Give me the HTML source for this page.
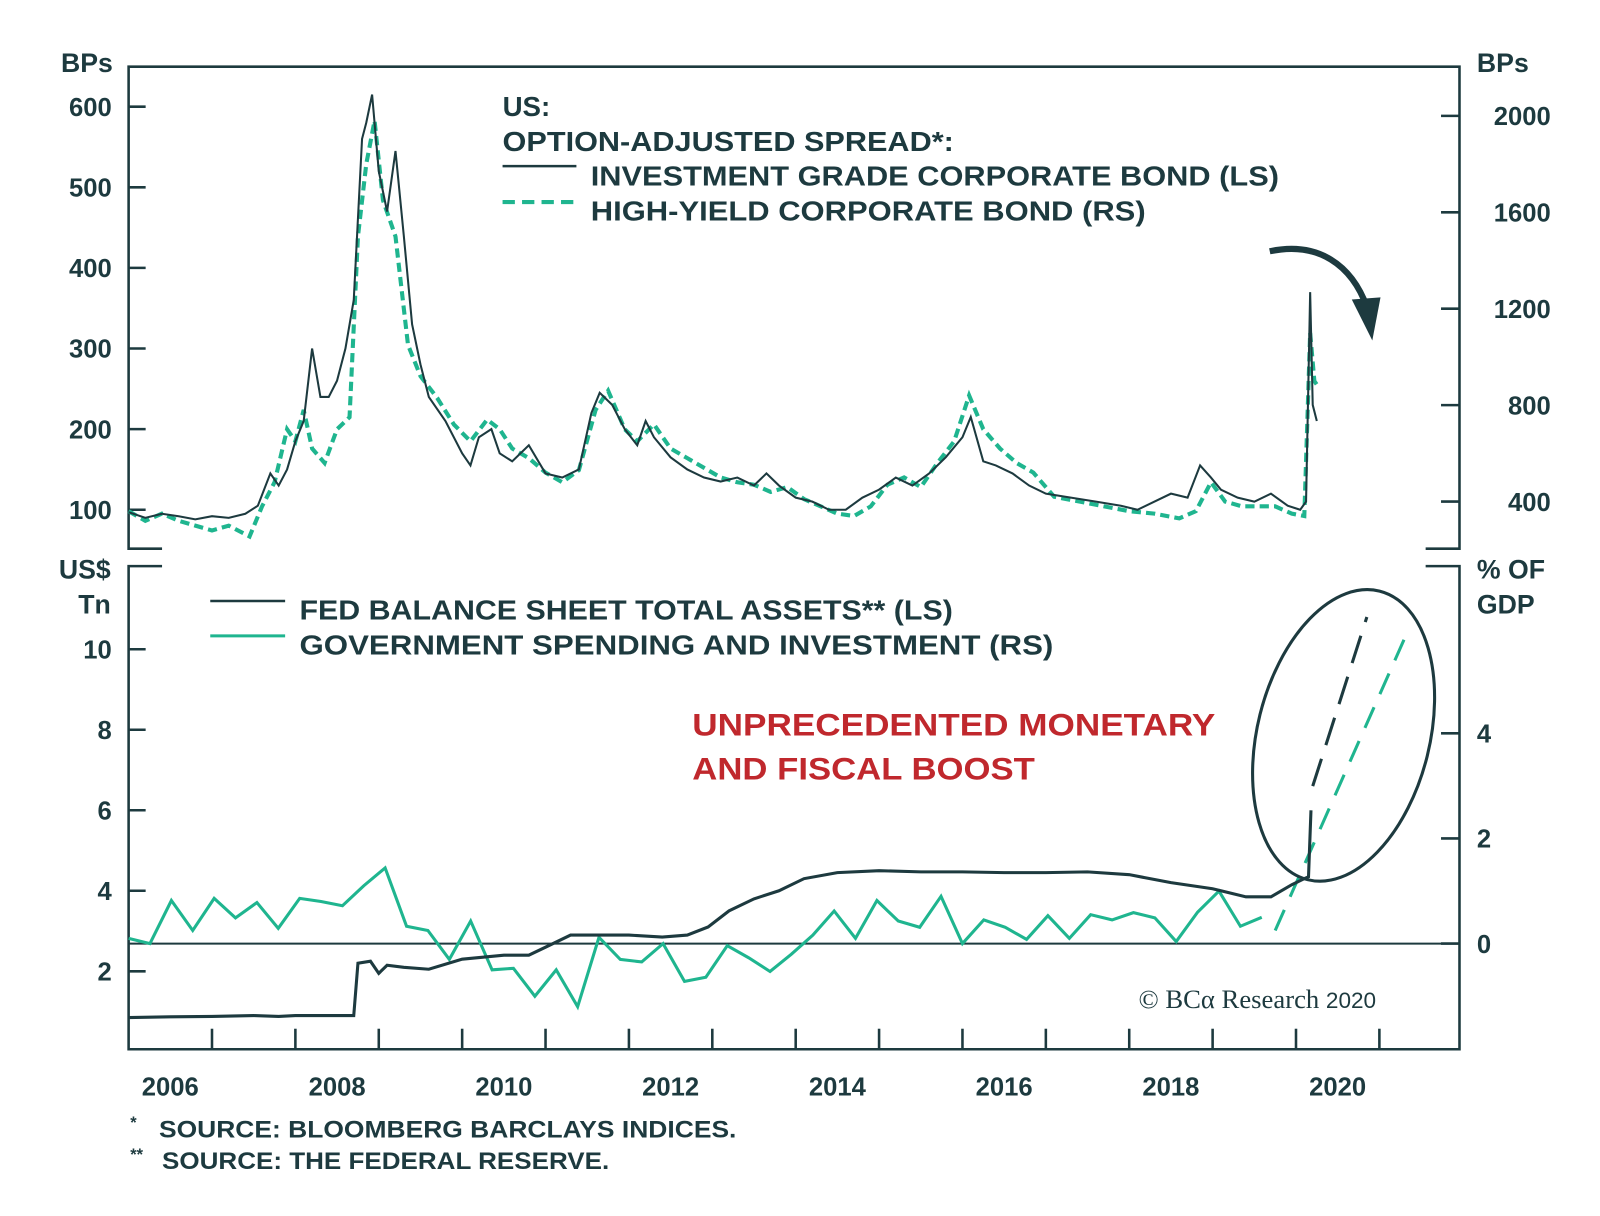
<!DOCTYPE html>
<html><head><meta charset="utf-8"><style>
html,body{margin:0;padding:0;background:#fff;}
svg{display:block;}
text{font-family:"Liberation Sans",sans-serif;font-weight:bold;fill:#1d3a3f;}
</style></head><body>
<svg id="chart" width="1600" height="1216" viewBox="0 0 1560 1185.6" preserveAspectRatio="none" xmlns="http://www.w3.org/2000/svg">
<g id="axes" stroke="#1d3a3f" stroke-width="2.5" fill="none">
  <path d="M158,535 H125.4 V65 H1423 V535 H1390"/>
  <path d="M158,552 H125.4 V1023 H1423 V552 H1390"/>
  <line x1="125.4" y1="920" x2="1423" y2="920" stroke-width="2"/>
</g>
<g id="ticks"></g>
<g id="series"></g>
<g>
  <text x="490" y="113" font-size="27">US:</text>
  <text x="490" y="147" font-size="27" textLength="440" lengthAdjust="spacingAndGlyphs">OPTION-ADJUSTED SPREAD*:</text>
  <line x1="490" y1="162" x2="562" y2="162" stroke="#1d3a3f" stroke-width="2.5"/>
  <line x1="490" y1="197" x2="562" y2="197" stroke="#1fb58f" stroke-width="4" stroke-dasharray="12,7"/>
  <text x="576" y="181" font-size="27" textLength="671" lengthAdjust="spacingAndGlyphs">INVESTMENT GRADE CORPORATE BOND (LS)</text>
  <text x="576" y="215" font-size="27" textLength="541" lengthAdjust="spacingAndGlyphs">HIGH-YIELD CORPORATE BOND (RS)</text>
</g>
<g>
  <line x1="205" y1="586" x2="278" y2="586" stroke="#1d3a3f" stroke-width="2.5"/>
  <line x1="205" y1="620" x2="278" y2="620" stroke="#1fb58f" stroke-width="3"/>
  <text x="292" y="604" font-size="27" textLength="637" lengthAdjust="spacingAndGlyphs">FED BALANCE SHEET TOTAL ASSETS** (LS)</text>
  <text x="292" y="638" font-size="27" textLength="735" lengthAdjust="spacingAndGlyphs">GOVERNMENT SPENDING AND INVESTMENT (RS)</text>
</g>
<g>
  <text x="675" y="717" font-size="31" style="fill:#c0282d" textLength="510" lengthAdjust="spacingAndGlyphs">UNPRECEDENTED MONETARY</text>
  <text x="675" y="760" font-size="31" style="fill:#c0282d" textLength="334" lengthAdjust="spacingAndGlyphs">AND FISCAL BOOST</text>
  <ellipse cx="1310" cy="717" rx="84" ry="145" transform="rotate(14 1310 717)" fill="none" stroke="#1d3a3f" stroke-width="3"/>
  <path d="M1238,245 C1285,235 1318,258 1333,300" fill="none" stroke="#1d3a3f" stroke-width="6"/>
  <polygon points="1318,292 1346,290 1338,332" fill="#1d3a3f"/>
</g>
<g>
  <text x="110" y="70" font-size="26" text-anchor="end">BPs</text>
  <text x="1440" y="70" font-size="26">BPs</text>
  <text x="108" y="564" font-size="26" text-anchor="end">US$</text>
  <text x="108" y="598" font-size="26" text-anchor="end">Tn</text>
  <text x="1440" y="564" font-size="26">% OF</text>
  <text x="1440" y="598" font-size="26">GDP</text>
</g>
<g>
  <text x="1110" y="983" font-size="26" style="font-family:'Liberation Serif',serif;font-weight:normal">© BCα Research <tspan font-size="22" style="font-family:'Liberation Sans',sans-serif">2020</tspan></text>
</g>
<g>
  <text x="127" y="1100" font-size="16">*</text>
  <text x="155" y="1109" font-size="23" font-weight="normal" textLength="563" lengthAdjust="spacingAndGlyphs">SOURCE: BLOOMBERG BARCLAYS INDICES.</text>
  <text x="127" y="1131" font-size="16">**</text>
  <text x="158" y="1140" font-size="23" textLength="436" lengthAdjust="spacingAndGlyphs">SOURCE: THE FEDERAL RESERVE.</text>
</g>
<script>
// ---- data ----
const igTimes=[2006.0,2006.2,2006.4,2006.6,2006.8,2007.0,2007.2,2007.4,2007.55,2007.7,2007.8,2007.9,2008.0,2008.1,2008.2,2008.3,2008.4,2008.5,2008.6,2008.7,2008.8,2008.85,2008.92,2009.0,2009.1,2009.2,2009.3,2009.4,2009.5,2009.6,2009.8,2010.0,2010.1,2010.2,2010.35,2010.45,2010.6,2010.8,2011.0,2011.2,2011.4,2011.55,2011.65,2011.8,2011.95,2012.1,2012.2,2012.3,2012.5,2012.7,2012.9,2013.1,2013.3,2013.5,2013.65,2013.8,2014.0,2014.2,2014.4,2014.6,2014.8,2015.0,2015.2,2015.4,2015.6,2015.8,2016.0,2016.1,2016.25,2016.4,2016.6,2016.8,2017.0,2017.3,2017.6,2017.9,2018.1,2018.3,2018.5,2018.7,2018.85,2018.98,2019.1,2019.3,2019.5,2019.7,2019.9,2020.05,2020.12,2020.17,2020.2,2020.25];
const igValues=[97,90,95,92,88,92,90,95,105,145,130,150,185,210,300,240,240,260,300,360,560,580,615,520,470,545,440,330,280,240,210,170,155,190,200,170,160,180,145,140,150,220,245,230,200,180,210,190,165,150,140,135,140,130,145,130,115,110,100,100,115,125,140,130,145,165,190,215,160,155,145,130,120,115,110,105,100,110,120,115,155,140,125,115,110,120,105,100,110,370,230,210];
const hyTimes=[2006.0,2006.2,2006.4,2006.6,2006.8,2007.0,2007.2,2007.45,2007.6,2007.75,2007.9,2008.0,2008.1,2008.2,2008.35,2008.5,2008.65,2008.75,2008.85,2008.95,2009.05,2009.2,2009.35,2009.5,2009.7,2009.9,2010.1,2010.3,2010.45,2010.6,2010.8,2011.0,2011.2,2011.4,2011.6,2011.75,2011.95,2012.1,2012.3,2012.5,2012.7,2012.9,2013.1,2013.3,2013.5,2013.7,2013.9,2014.1,2014.3,2014.5,2014.7,2014.9,2015.1,2015.3,2015.5,2015.7,2015.9,2016.08,2016.25,2016.45,2016.65,2016.85,2017.1,2017.4,2017.7,2018.0,2018.3,2018.6,2018.8,2018.98,2019.15,2019.35,2019.55,2019.75,2019.95,2020.1,2020.17,2020.22,2020.26];
const hyValues=[360,320,350,320,300,280,300,255,380,480,700,650,780,620,560,700,750,1500,1800,1980,1650,1500,1050,920,830,720,650,740,700,620,580,520,480,530,780,860,700,650,720,620,580,540,500,480,470,440,460,410,380,350,340,380,470,500,460,560,650,840,700,620,560,520,420,400,380,360,350,330,360,480,400,380,380,380,350,340,1100,900,880];
const fedTimes=[2006.0,2006.5,2007.0,2007.5,2007.8,2008.0,2008.7,2008.75,2008.9,2009.0,2009.1,2009.3,2009.6,2010.0,2010.5,2010.8,2011.0,2011.3,2011.7,2012.0,2012.4,2012.7,2012.95,2013.2,2013.5,2013.8,2014.1,2014.5,2015.0,2015.5,2016.0,2016.5,2017.0,2017.5,2018.0,2018.5,2019.0,2019.4,2019.7,2019.95,2020.1,2020.15,2020.18];
const fedValues=[0.85,0.87,0.88,0.9,0.88,0.9,0.9,2.2,2.25,1.95,2.15,2.1,2.05,2.3,2.4,2.4,2.6,2.9,2.9,2.9,2.85,2.9,3.1,3.5,3.8,4.0,4.3,4.45,4.5,4.47,4.47,4.45,4.45,4.47,4.4,4.2,4.05,3.85,3.85,4.15,4.3,4.35,6.0];
const fedProjTimes=[2020.2,2020.85];
const fedProjValues=[6.6,10.8];
const govStart=2006.0, govStep=0.2564;
const govValues=[0.1,0,0.82,0.25,0.86,0.49,0.78,0.29,0.86,0.8,0.72,1.1,1.44,0.33,0.25,-0.3,0.43,-0.5,-0.47,-1.0,-0.5,-1.2,0.12,-0.3,-0.35,0,-0.72,-0.64,-0.04,-0.27,-0.53,-0.2,0.16,0.62,0.1,0.82,0.43,0.31,0.9,0,0.45,0.31,0.08,0.53,0.1,0.55,0.45,0.59,0.49,0.04,0.6,1.0,0.33,0.5];
const govProjTimes=[2019.75,2021.3];
const govProjValues=[0.25,5.8];
const leftTopTicks=[100,200,300,400,500,600];
const rightTopTicks=[400,800,1200,1600,2000];
const leftBotTicks=[2,4,6,8,10];
const rightBotTicks=[0,2,4];
const yearLabels=[2006,2008,2010,2012,2014,2016,2018,2020];
// ---- scales ----
const X=t=>125.4+(t-2006)*81.3;
const yIG=v=>497-(v-100)*0.786;
const yHY=v=>489-(v-400)*0.235;
const yFed=v=>947-(v-2)*39.25;
const yGov=v=>920-v*51.25;
const NS='http://www.w3.org/2000/svg';
const ticks=document.getElementById('ticks'), series=document.getElementById('series');
function mk(tag,attrs,parent){const e=document.createElementNS(NS,tag);for(const k in attrs)e.setAttribute(k,attrs[k]);parent.appendChild(e);return e;}
function txt(s,x,y,anchor,parent){const e=mk('text',{x:x,y:y,'font-size':25,'text-anchor':anchor},parent);e.textContent=s;return e;}
leftTopTicks.forEach(v=>{const y=yIG(v);
  const l=mk('line',{x1:125.4,x2:142,y1:y,y2:y,stroke:'#1d3a3f','stroke-width':2.5},ticks);
  
  const t=txt(v,109,y+9,'end',ticks);
  });
rightTopTicks.forEach(v=>{const y=yHY(v);
  const l=mk('line',{x1:1405,x2:1423,y1:y,y2:y,stroke:'#1d3a3f','stroke-width':2.5},ticks);
  
  const t=txt(v,1512,y+9,'end',ticks);
  });
leftBotTicks.forEach(v=>{const y=yFed(v);
  const l=mk('line',{x1:125.4,x2:142,y1:y,y2:y,stroke:'#1d3a3f','stroke-width':2.5},ticks);
  
  const t=txt(v,109,y+9,'end',ticks);
  });
rightBotTicks.forEach(v=>{const y=yGov(v);
  const l=mk('line',{x1:1405,x2:1423,y1:y,y2:y,stroke:'#1d3a3f','stroke-width':2.5},ticks);
  
  const t=txt(v,1440,y+9,'start',ticks);
  });
for(let yr=2007;yr<=2021;yr++){const x=X(yr);
  const l=mk('line',{x1:x,x2:x,y1:1003,y2:1023,stroke:'#1d3a3f','stroke-width':2.5},ticks);
  }
yearLabels.forEach(yr=>{const t=txt(yr,X(yr+0.5),1068,'middle',ticks);
  });
function line(ts,vs,ys,attrs,name){const d=ts.map((t,i)=>(i?'L':'M')+X(t).toFixed(1)+','+ys(vs[i]).toFixed(1)).join('');
  const p=mk('path',Object.assign({d:d,fill:'none'},attrs),series);
  
  return p;}
line(hyTimes,hyValues,yHY,{stroke:'#1fb58f','stroke-width':4,'stroke-dasharray':'9,5'},'high-yield-line');
line(igTimes,igValues,yIG,{stroke:'#1d3a3f','stroke-width':2},'investment-grade-line');
const govTimes=govValues.map((v,i)=>govStart+i*govStep);
line(govTimes,govValues,yGov,{stroke:'#1fb58f','stroke-width':3},'gov-spending-line');
line(govProjTimes,govProjValues,yGov,{stroke:'#1fb58f','stroke-width':3,'stroke-dasharray':'22,14'},'gov-spending-projection');
line(fedTimes,fedValues,yFed,{stroke:'#1d3a3f','stroke-width':3},'fed-balance-line');
line(fedProjTimes,fedProjValues,yFed,{stroke:'#1d3a3f','stroke-width':3,'stroke-dasharray':'28,14'},'fed-balance-projection');
</script>
</svg>
</body></html>
